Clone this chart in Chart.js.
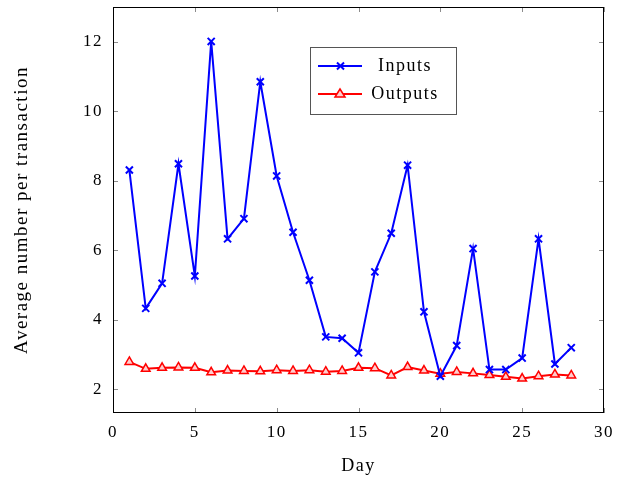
<!DOCTYPE html>
<html>
<head>
<meta charset="utf-8">
<script src="https://cdn.jsdelivr.net/npm/chart.js@4/dist/chart.umd.min.js"></script>
<style>
  html, body { margin: 0; padding: 0; background: #fff; }
  #wrap { width: 626px; height: 483px; }
</style>
</head>
<body>
<div id="wrap"><canvas id="myChart" width="626" height="483"></canvas></div>
<script>
// values
const days = [1, 2, 3, 4, 5, 6, 7, 8, 9, 10, 11, 12, 13, 14, 15, 16, 17, 18, 19, 20, 21, 22, 23, 24, 25, 26, 27, 28];
const inputs = [8.31, 4.33, 5.05, 8.49, 5.26, 12.01, 6.33, 6.91, 10.85, 8.14, 6.52, 5.14, 3.51, 3.47,
    3.05, 5.38, 6.49, 8.45, 4.23, 2.38, 3.26, 6.05, 2.57, 2.57, 2.9, 6.33, 2.73, 3.2];
const outputs = [2.79, 2.59, 2.62, 2.63, 2.62, 2.49, 2.54, 2.53, 2.52, 2.55, 2.53, 2.55, 2.51, 2.53,
    2.62, 2.61, 2.4, 2.64, 2.54, 2.45, 2.5, 2.46, 2.41, 2.36, 2.31, 2.38, 2.43, 2.4];
const xTicks = [0, 5, 10, 15, 20, 25, 30];
const yTicks = [2, 4, 6, 8, 10, 12];

const serif = "'Liberation Serif', 'DejaVu Serif', serif";

function toPoints(arr) {
    let pts = [];
    for (let i = 0; i < days.length; i++) {
        pts.push({ x: days[i], y: arr[i] });
    }
    return pts;
}

// the original font runs wider than Liberation Serif, so space the letters out a bit
const spacingPlugin = {
    id: 'spacing',
    beforeUpdate(chart) { chart.ctx.letterSpacing = '1.5px'; },
    beforeDraw(chart) { chart.ctx.letterSpacing = '1.5px'; }
};

// frame + inward tick marks on all four sides, legend box inside the plot
const framePlugin = {
    id: 'frame',
    afterDraw(chart) {
        const ctx = chart.ctx;
        const a = chart.chartArea;
        const xs = chart.scales.x, ys = chart.scales.y;
        ctx.save();
        ctx.strokeStyle = '#8c8c8c';
        ctx.lineWidth = 1;
        ctx.beginPath();
        xTicks.forEach(function (t) {
            const px = Math.round(xs.getPixelForValue(t)) + 0.5;
            ctx.moveTo(px, a.bottom); ctx.lineTo(px, a.bottom - 5);
            ctx.moveTo(px, a.top); ctx.lineTo(px, a.top + 5);
        });
        yTicks.forEach(function (t) {
            const py = Math.round(ys.getPixelForValue(t)) + 0.5;
            ctx.moveTo(a.left, py); ctx.lineTo(a.left + 5, py);
            ctx.moveTo(a.right, py); ctx.lineTo(a.right - 5, py);
        });
        ctx.stroke();

        ctx.strokeStyle = '#000';
        ctx.strokeRect(a.left + 0.5, a.top + 0.5, a.right - a.left - 1, a.bottom - a.top - 1);

        // legend
        const lx = 310, ly = 47, lw = 146, lh = 67;
        ctx.fillStyle = '#fff';
        ctx.fillRect(lx, ly, lw, lh);
        ctx.strokeStyle = '#555';
        ctx.strokeRect(lx + 0.5, ly + 0.5, lw, lh);
        chart.data.datasets.forEach(function (ds, i) {
            const yy = 66 + i * 28;
            ctx.strokeStyle = ds.borderColor;
            ctx.lineWidth = 2;
            ctx.beginPath();
            ctx.moveTo(318, yy); ctx.lineTo(362, yy);
            ctx.stroke();
            if (i === 0) {
                ctx.beginPath();
                ctx.moveTo(337, yy - 3.5); ctx.lineTo(344, yy + 3.5);
                ctx.moveTo(344, yy - 3.5); ctx.lineTo(337, yy + 3.5);
                ctx.stroke();
            } else {
                ctx.lineWidth = 1.5;
                ctx.beginPath();
                ctx.moveTo(340, yy - 5); ctx.lineTo(345, yy + 3); ctx.lineTo(335, yy + 3); ctx.closePath();
                ctx.fillStyle = ds.pointBackgroundColor;
                ctx.fill();
                ctx.stroke();
            }
            ctx.fillStyle = '#000';
            ctx.font = '18px ' + serif;
            ctx.textAlign = 'center';
            ctx.textBaseline = 'middle';
            ctx.fillText(ds.label, 405, yy);
        });
        ctx.restore();
    }
};

function main() {
    const ctx = document.getElementById('myChart').getContext('2d');
    const chart = new Chart(ctx, {
        type: 'line',
        data: {
            datasets: [{
                label: 'Inputs',
                data: toPoints(inputs),
                borderColor: 'rgb(0, 0, 255)',
                backgroundColor: 'rgb(0, 0, 255)',
                borderWidth: 2,
                pointStyle: 'crossRot',
                pointRadius: 5,
                pointBorderWidth: 2,
                pointBorderColor: 'rgb(0, 0, 255)',
                tension: 0
            }, {
                label: 'Outputs',
                data: toPoints(outputs),
                borderColor: 'rgb(255, 0, 0)',
                backgroundColor: 'rgb(255, 0, 0)',
                borderWidth: 2,
                pointStyle: 'triangle',
                pointRadius: 5,
                pointBorderWidth: 1.5,
                pointBorderColor: 'rgb(255, 0, 0)',
                pointBackgroundColor: 'rgb(255, 205, 205)',
                tension: 0
            }]
        },
        options: {
            responsive: false,
            animation: false,
            layout: { padding: { left: 0, right: 22, top: 5, bottom: 0 } },
            plugins: { legend: { display: false }, tooltip: { enabled: false } },
            scales: {
                x: {
                    type: 'linear',
                    min: 0,
                    max: 30,
                    afterFit: function (s) { s.height = 70; s.paddingLeft = 0; s.paddingRight = 0; },
                    afterBuildTicks: function (s) { s.ticks = xTicks.map(v => ({ value: v })); },
                    grid: { display: false, drawTicks: false },
                    border: { display: false },
                    ticks: { color: '#000', padding: 9, font: { family: serif, size: 17 } },
                    title: { display: true, text: 'Day', color: '#000', padding: { top: 0, bottom: 6 }, font: { family: serif, size: 18 } }
                },
                y: {
                    type: 'linear',
                    min: 1.32,
                    max: 13.0,
                    afterFit: function (s) { s.width = 113; s.paddingTop = 0; s.paddingBottom = 0; },
                    afterBuildTicks: function (s) { s.ticks = yTicks.map(v => ({ value: v })); },
                    grid: { display: false, drawTicks: false },
                    border: { display: false },
                    ticks: { color: '#000', padding: 10, font: { family: serif, size: 17 } },
                    title: { display: true, text: 'Average number per transaction', color: '#000', padding: { top: 11, bottom: 0 }, font: { family: serif, size: 19 } }
                }
            }
        },
        plugins: [spacingPlugin, framePlugin]
    });
    console.log(chart.chartArea);
}

main();
</script>
</body>
</html>
